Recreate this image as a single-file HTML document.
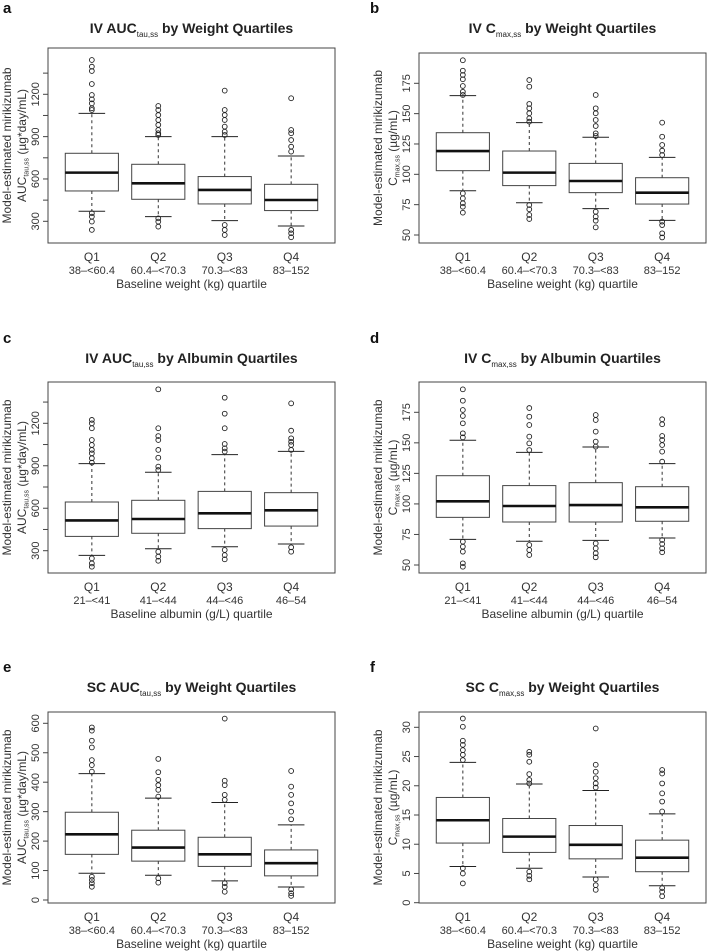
<!DOCTYPE html>
<html><head><meta charset="utf-8">
<style>
html,body{margin:0;padding:0;background:#fff;}
svg{display:block;font-family:"Liberation Sans",Arial,sans-serif;}
</style></head>
<body>
<svg id="fig" width="708" height="952" viewBox="0 0 708 952" xmlns="http://www.w3.org/2000/svg"></svg>
<script>
// ---------- data ----------
const weightCats = ["Q1","Q2","Q3","Q4"];
const weightRanges = ["38\u2013<60.4","60.4\u2013<70.3","70.3\u2013<83","83\u2013152"];
const albuminRanges = ["21\u2013<41","41\u2013<44","44\u2013<46","46\u201354"];

// Panel a: IV AUC by weight
const aMed=[645,569,522,451];
const aQ1=[515,456,423,376];
const aQ3=[782,704,617,562];
const aLo=[371,333,305,267];
const aHi=[1065,900,900,763];
const aOut=[[1443,1396,1365,1273,1195,1164,1136,1101,1089,357,333,298,239],
            [1117,1089,1053,1018,983,947,924,912,321,298,262],
            [1226,1089,1053,1018,971,935,912,274,239,203],
            [1172,947,924,876,829,794,239,215,187]];
const aTicks=[300,450,600,750,900,1050,1200,1350];
const aTickLabels=["300","","600","","900","","1200",""];

// Panel b: IV Cmax by weight
const bMed=[119.2,101.4,94.5,84.9];
const bQ1=[103,90.7,84.9,75.5];
const bQ3=[134.3,119.2,109,97.2];
const bLo=[86.5,76.6,71.7,62.1];
const bHi=[164.8,142.6,130.5,114];
const bOut=[[194,185.4,181.9,178.3,172.8,168,165.4,84.3,80.2,76.1,73.3,68.4],
            [177.7,172.2,158,154.4,150.3,146.1,143.4,74.7,71.2,66.5,63.2],
            [165.4,154.4,150.3,144.8,139.8,133.8,131.6,69.2,65.1,61.8,56.3],
            [142.6,131,124.2,119.5,115.9,61,58.2,51.4,48]];
const bTicks=[50,75,100,125,150,175];
const bTickLabels=["50","75","100","125","150","175"];

// Panel c: IV AUC by albumin
const cMed=[514,524,564,585];
const cQ1=[401,423,456,474];
const cQ3=[644,656,719,710];
const cLo=[267,314,328,347];
const cHi=[915,854,979,1002];
const cOut=[[1224,1200,1165,1082,1047,1012,988,953,922,246,210,187],
            [1440,1165,1110,1082,1012,957,894,870,293,258,229],
            [1381,1268,1165,1054,1023,1000,305,269,239],
            [1341,1148,1094,1070,1047,1012,324,293]];
const cTicks=aTicks;
const cTickLabels=aTickLabels;

// Panel d: IV Cmax by albumin
const dMed=[102.1,98.3,99.1,97.2];
const dQ1=[89,85.2,85.2,85.8];
const dQ3=[123.1,115,117.4,114.1];
const dLo=[71,69.4,70.2,72.1];
const dHi=[152.1,142.2,146.6,133];
const dOut=[[193.8,184.5,176.9,172,166,157.8,154.5,69.1,65,60.9,51.4,48.6],
            [178.5,171.4,164.6,155.1,149.6,144.1,66.4,62.3,58.2],
            [172.8,168.7,159.2,151,146.9,67.7,63.6,59.6,56.3],
            [169.3,165.2,155.6,152.3,148.2,142.8,134.6,70.5,67.2,63.6,60.4]];
const dTicks=bTicks;
const dTickLabels=bTickLabels;

// Panel e: SC AUC by weight
const eMed=[223,178,155,125];
const eQ1=[155,132,114,82];
const eQ3=[298,237,213,170];
const eLo=[91,84,65,44];
const eHi=[429,346,331,255];
const eOut=[[586,575,541,518,475,458,436,79,68,57,45],
            [479,434,408,390,374,351,74,59],
            [616,405,390,357,340,57,45,28],
            [438,385,357,328,300,274,36,23,14]];
const eTicks=[0,100,200,300,400,500,600];
const eTickLabels=["0","100","200","300","400","500","600"];

// Panel f: SC Cmax by weight
const fMed=[14.1,11.3,9.9,7.7];
const fQ1=[10.2,8.6,7.5,5.3];
const fQ3=[18,14.4,13.2,10.7];
const fLo=[6.2,5.9,4.4,2.9];
const fHi=[24,20.3,19.2,15.2];
const fOut=[[31.5,30.1,27.7,27,26.1,25.3,24.4,5.9,5,3.3],
            [25.8,25.3,24.1,22,21,20.4,5.3,4.6,4],
            [29.8,23.6,22.4,21.3,20.4,19.7,4,3,2.2],
            [22.7,22.1,20.4,18.7,17.3,15.6,2.5,1.9,1.1]];
const fTicks=[0,5,10,15,20,25,30];
const fTickLabels=["0","5","10","15","20","25","30"];

// ---------- drawing ----------
const NS="http://www.w3.org/2000/svg";
const svg=document.getElementById('fig');
function mk(tag,attrs,parent){const e=document.createElementNS(NS,tag);for(const k in attrs)e.setAttribute(k,attrs[k]);(parent||svg).appendChild(e);return e;}

function panel(p){
  const g=mk('g',{});
  
  
  const yScale=v=>p.py0+(v-p.v0)*(p.py1-p.py0)/(p.v1-p.v0);
  const L=p.x,R=p.x+287,T=p.top,B=p.bottom;
  const unit=287/4.32;
  const xScale=i=>L+(i+1-0.34)*unit;
  const lt=mk('text',{x:p.lx,y:p.ly+5,'font-size':15,'font-weight':'bold',fill:'#111'},g);
  lt.textContent=p.id;
  
  
  const tt=mk('text',{x:(L+R)/2,y:p.ty+5,'font-size':14,'font-weight':'bold','text-anchor':'middle',fill:'#222'},g);
  
  
  const t1=mk('tspan',{},tt);t1.textContent=p.t1;
  const t2=mk('tspan',{'font-size':8,'font-weight':'normal',dy:4},tt);t2.textContent=p.tsub;
  const t3=mk('tspan',{dy:-4},tt);t3.textContent=' '+p.t2;
  const fr=mk('rect',{x:L,y:T,width:287,height:B-T,fill:'none',stroke:'#444','stroke-width':1},g);
  
  
  p.ticks.forEach((v,i)=>{
    const y=yScale(v);
    if(y<T-0.5||y>B+0.5)return;
    const tk=mk('line',{x1:L,x2:L-5,y1:y,y2:y,stroke:'#444','stroke-width':1},g);
    
    
    if(p.tickLabels[i]){
      const tl=mk('text',{x:L-9,y:y,'font-size':11,'text-anchor':'middle',fill:'#333',transform:`rotate(-90 ${L-9} ${y})`},g);
      tl.textContent=p.tickLabels[i];
      
      
    }
  });
  const cy=(T+B)/2;
  const yt=mk('text',{x:L-37,y:cy,'font-size':12,'text-anchor':'middle',fill:'#333',transform:`rotate(-90 ${L-37} ${cy})`},g);
  yt.textContent='Model-estimated mirikizumab';
  
  
  const yt2=mk('text',{x:L-22,y:cy,'font-size':12,'text-anchor':'middle',fill:'#333',transform:`rotate(-90 ${L-22} ${cy})`},g);
  
  
  const u1=mk('tspan',{},yt2);u1.textContent=p.ym;
  const u2=mk('tspan',{'font-size':7,dy:2.5},yt2);u2.textContent=p.ysub;
  const u3=mk('tspan',{dy:-2.5},yt2);u3.textContent=' '+p.yunit;
  const hw=unit*0.4, cw=unit*0.2;
  p.med.forEach((m,i)=>{
    const cx=xScale(i);
    const bg=mk('g',{},g);
    
    
    mk('line',{x1:cx,x2:cx,y1:yScale(p.q3[i]),y2:yScale(p.hi[i]),stroke:'#333','stroke-dasharray':'3,3'},bg);
    mk('line',{x1:cx,x2:cx,y1:yScale(p.q1[i]),y2:yScale(p.lo[i]),stroke:'#333','stroke-dasharray':'3,3'},bg);
    mk('line',{x1:cx-cw,x2:cx+cw,y1:yScale(p.hi[i]),y2:yScale(p.hi[i]),stroke:'#222','stroke-width':1},bg);
    mk('line',{x1:cx-cw,x2:cx+cw,y1:yScale(p.lo[i]),y2:yScale(p.lo[i]),stroke:'#222','stroke-width':1},bg);
    mk('rect',{x:cx-hw,y:yScale(p.q3[i]),width:2*hw,height:yScale(p.q1[i])-yScale(p.q3[i]),fill:'#fff',stroke:'#444','stroke-width':1},bg);
    mk('line',{x1:cx-hw,x2:cx+hw,y1:yScale(m),y2:yScale(m),stroke:'#111','stroke-width':2.6},bg);
    p.out[i].forEach(v=>{
      const c=mk('circle',{cx:cx,cy:yScale(v),r:2.4,fill:'none',stroke:'#222','stroke-width':0.9},bg);
      
      
    });
    const xl=mk('text',{x:cx,y:B+18,'font-size':12,'text-anchor':'middle',fill:'#333'},g);
    xl.textContent=weightCats[i];
    
    
    const xr=mk('text',{x:cx,y:B+31,'font-size':11,'text-anchor':'middle',fill:'#333'},g);
    xr.textContent=p.ranges[i];
    
    
  });
  const xt=mk('text',{x:(L+R)/2,y:B+45,'font-size':12,'text-anchor':'middle',fill:'#333'},g);
  xt.textContent=p.xtitle;
  
  
}

const wX='Baseline weight (kg) quartile', aX='Baseline albumin (g/L) quartile';
panel({id:'a',x:48,top:48,bottom:243,v0:300,py0:221.3,v1:1200,py1:94.3,lx:3,ly:8,ty:28,
  t1:'IV AUC',tsub:'tau,ss',t2:'by Weight Quartiles',ym:'AUC',ysub:'tau,ss',yunit:'(\u00b5g*day/mL)',
  ticks:aTicks,tickLabels:aTickLabels,med:aMed,q1:aQ1,q3:aQ3,lo:aLo,hi:aHi,out:aOut,ranges:weightRanges,xtitle:wX});
panel({id:'b',x:419,top:53,bottom:243,v0:50,py0:235,v1:175,py1:83.3,lx:370,ly:8,ty:28,
  t1:'IV C',tsub:'max,ss',t2:'by Weight Quartiles',ym:'C',ysub:'max,ss',yunit:'(\u00b5g/mL)',
  ticks:bTicks,tickLabels:bTickLabels,med:bMed,q1:bQ1,q3:bQ3,lo:bLo,hi:bHi,out:bOut,ranges:weightRanges,xtitle:wX});
panel({id:'c',x:48,top:382,bottom:573,v0:300,py0:550.7,v1:1200,py1:423.3,lx:3,ly:338,ty:358,
  t1:'IV AUC',tsub:'tau,ss',t2:'by Albumin Quartiles',ym:'AUC',ysub:'tau,ss',yunit:'(\u00b5g*day/mL)',
  ticks:cTicks,tickLabels:cTickLabels,med:cMed,q1:cQ1,q3:cQ3,lo:cLo,hi:cHi,out:cOut,ranges:albuminRanges,xtitle:aX});
panel({id:'d',x:419,top:382,bottom:573,v0:50,py0:565,v1:175,py1:412.3,lx:370,ly:338,ty:358,
  t1:'IV C',tsub:'max,ss',t2:'by Albumin Quartiles',ym:'C',ysub:'max,ss',yunit:'(\u00b5g/mL)',
  ticks:dTicks,tickLabels:dTickLabels,med:dMed,q1:dQ1,q3:dQ3,lo:dLo,hi:dHi,out:dOut,ranges:albuminRanges,xtitle:aX});
panel({id:'e',x:48,top:712,bottom:903,v0:0,py0:900,v1:600,py1:723.3,lx:3,ly:667,ty:687,
  t1:'SC AUC',tsub:'tau,ss',t2:'by Weight Quartiles',ym:'AUC',ysub:'tau,ss',yunit:'(\u00b5g*day/mL)',
  ticks:eTicks,tickLabels:eTickLabels,med:eMed,q1:eQ1,q3:eQ3,lo:eLo,hi:eHi,out:eOut,ranges:weightRanges,xtitle:wX});
panel({id:'f',x:419,top:712,bottom:903,v0:0,py0:902.7,v1:30,py1:727.3,lx:370,ly:667,ty:687,
  t1:'SC C',tsub:'max,ss',t2:'by Weight Quartiles',ym:'C',ysub:'max,ss',yunit:'(\u00b5g/mL)',
  ticks:fTicks,tickLabels:fTickLabels,med:fMed,q1:fQ1,q3:fQ3,lo:fLo,hi:fHi,out:fOut,ranges:weightRanges,xtitle:wX});
</script>
</body></html>
